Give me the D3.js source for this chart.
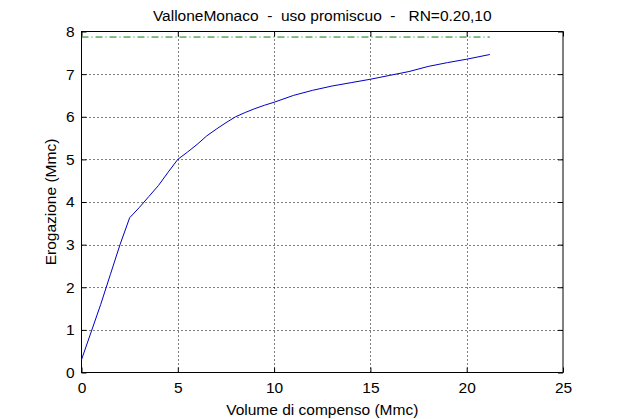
<!DOCTYPE html>
<html><head><meta charset="utf-8">
<script src="https://cdn.jsdelivr.net/npm/d3@7"></script>
<style>body{margin:0;background:#fff}svg{display:block}text{font-family:"Liberation Sans",Arial,sans-serif;fill:#000}</style>
</head><body>
<svg id="c" width="623" height="419"></svg>
<script>
const titleText = "ValloneMonaco  -  uso promiscuo  -   RN=0.20,10";
const xLabel = "Volume di compenso (Mmc)";
const yLabel = "Erogazione (Mmc)";
const xTicks = [0, 5, 10, 15, 20, 25];
const yTicks = [0, 1, 2, 3, 4, 5, 6, 7, 8];
const volume = [0, 0.5, 1, 1.5, 2, 2.5, 3, 3.5, 4, 4.5, 5, 5.5, 6, 6.5, 7, 7.5, 8, 8.5, 9, 9.5, 10, 11, 12, 13, 14, 15, 16, 17, 18, 19, 20, 21.2];
const erogazione = [0.3, 0.95, 1.6, 2.3, 3.0, 3.63, 3.87, 4.13, 4.39, 4.7, 5.0, 5.17, 5.35, 5.55, 5.71, 5.86, 6.0, 6.1, 6.19, 6.27, 6.34, 6.5, 6.62, 6.72, 6.8, 6.88, 6.97, 7.06, 7.18, 7.27, 7.35, 7.46];
const limitX = [0, 21.2];
const limitY = [7.87, 7.87];

const svg = d3.select("#c");
const L = 81.5, R = 563, T = 31.5, B = 372.5;
const x = d3.scaleLinear().domain([0, 25]).range([L, R]);
const y = d3.scaleLinear().domain([0, 8]).range([B, T]);

// grid
const g = svg.append("g");
g.selectAll(".gx").data(xTicks.slice(1, -1)).enter().append("line")
  .attr("x1", d => Math.round(x(d)) + 0.5).attr("x2", d => Math.round(x(d)) + 0.5)
  .attr("y1", T).attr("y2", B)
  .attr("stroke", "#000").attr("stroke-width", 1).attr("stroke-dasharray", "1,3");
g.selectAll(".gy").data(yTicks.slice(1, -1)).enter().append("line")
  .attr("y1", d => Math.round(y(d)) + 0.5).attr("y2", d => Math.round(y(d)) + 0.5)
  .attr("x1", L).attr("x2", R)
  .attr("stroke", "#000").attr("stroke-width", 1).attr("stroke-dasharray", "1,3");

// axes
const fs = "15.5px";
const axB = svg.append("g").attr("transform", `translate(0,${B})`)
  .call(d3.axisBottom(x).tickValues(xTicks).tickSize(-5).tickPadding(9).tickFormat(d3.format("d")));
const axT = svg.append("g").attr("transform", `translate(0,${T})`)
  .call(d3.axisTop(x).tickValues(xTicks).tickSize(-5).tickFormat(""));
const axL = svg.append("g").attr("transform", `translate(${L},0)`)
  .call(d3.axisLeft(y).tickValues(yTicks).tickSize(-5).tickPadding(7).tickFormat(d3.format("d")));
const axR = svg.append("g").attr("transform", `translate(${R},0)`)
  .call(d3.axisRight(y).tickValues(yTicks).tickSize(-5).tickFormat(""));
[axB, axT, axL, axR].forEach(a => {
  a.select(".domain").remove();
  a.selectAll("line").attr("stroke", "#000");
  a.selectAll("text").style("font-size", fs).attr("font-family", "Liberation Sans, Arial, sans-serif");
});
svg.append("rect").attr("x", L).attr("y", T).attr("width", R - L).attr("height", B - T)
  .attr("fill", "none").attr("stroke", "#000").attr("stroke-width", 1);

// limit line
const lineGen = d3.line().x(d => x(d[0])).y(d => y(d[1]));
svg.append("path").datum(d3.zip(limitX, limitY)).attr("d", lineGen)
  .attr("fill", "none").attr("stroke", "#008000").attr("stroke-width", 1)
  .attr("stroke-dasharray", "7,3,1,3");
// curve
svg.append("path").datum(d3.zip(volume, erogazione)).attr("d", lineGen)
  .attr("fill", "none").attr("stroke", "#0000c0").attr("stroke-width", 1);

// texts
svg.append("text").attr("x", (L + R) / 2).attr("y", 21).attr("text-anchor", "middle")
  .style("font-size", fs).style("white-space", "pre").text(titleText);
svg.append("text").attr("x", (L + R) / 2).attr("y", 415).attr("text-anchor", "middle")
  .style("font-size", fs).text(xLabel);
svg.append("text").attr("transform", `translate(56,${(T + B) / 2}) rotate(-90)`).attr("text-anchor", "middle")
  .style("font-size", fs).text(yLabel);
</script>
</body></html>
